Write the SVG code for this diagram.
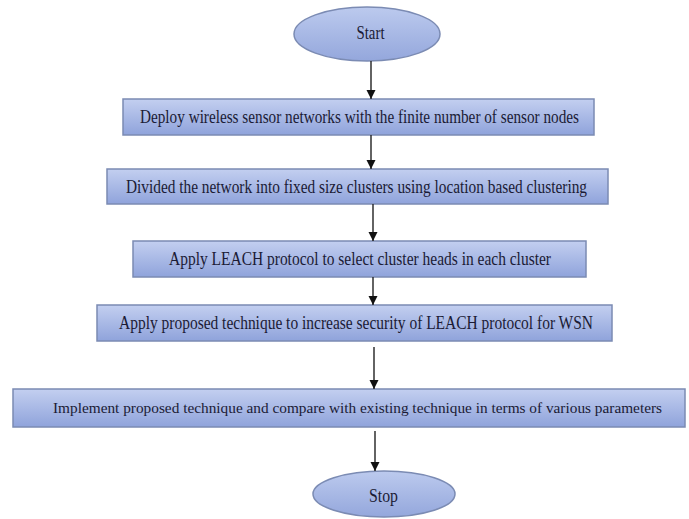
<svg xmlns="http://www.w3.org/2000/svg" width="689" height="519" viewBox="0 0 689 519">
<defs>
<linearGradient id="g" x1="0" y1="0" x2="0" y2="1">
<stop offset="0" stop-color="#c3cff0"/>
<stop offset="1" stop-color="#8fa3db"/>
</linearGradient>
<linearGradient id="ge" x1="0" y1="0" x2="0" y2="1">
<stop offset="0" stop-color="#bccaee"/>
<stop offset="1" stop-color="#94a7dc"/>
</linearGradient>
<marker id="ah" markerWidth="10" markerHeight="10" refX="9" refY="5" orient="auto" markerUnits="userSpaceOnUse">
<path d="M0,0.5 L9,5 L0,9.5 Z" fill="#111"/>
</marker>
<style>
.box{fill:url(#g);stroke:#7b8bb3;stroke-width:1.5}
.ell{fill:url(#ge);stroke:#7b8bb3;stroke-width:1.5}
.t{font-family:'Liberation Serif','Times New Roman',serif;font-size:18px;fill:#1b1b35;text-anchor:middle}
.c{stroke:#222;stroke-width:1.4;fill:none;marker-end:url(#ah)}
</style>
</defs>
<rect width="689" height="519" fill="#ffffff"/>
<g id="start">
<ellipse class="ell" cx="367" cy="34" rx="73" ry="27"/>
<text class="t" x="370.5" y="39" textLength="28" lengthAdjust="spacingAndGlyphs">Start</text>
</g>
<g id="step1">
<rect class="box" x="123" y="99" width="471" height="36"/>
<text class="t" x="359.5" y="123" textLength="439" lengthAdjust="spacingAndGlyphs">Deploy wireless sensor networks with the finite number of sensor nodes</text>
</g>
<g id="step2">
<rect class="box" x="107" y="169" width="501" height="35"/>
<text class="t" x="356.5" y="193" textLength="461" lengthAdjust="spacingAndGlyphs">Divided the network into fixed size clusters using location based clustering</text>
</g>
<g id="step3">
<rect class="box" x="133" y="241" width="453" height="36"/>
<text class="t" x="360" y="265" textLength="382" lengthAdjust="spacingAndGlyphs">Apply LEACH protocol to select cluster heads in each cluster</text>
</g>
<g id="step4">
<rect class="box" x="97" y="305" width="515" height="36"/>
<text class="t" x="356" y="329" textLength="474" lengthAdjust="spacingAndGlyphs">Apply proposed technique to increase security of LEACH protocol for WSN</text>
</g>
<g id="step5">
<rect class="box" x="13" y="389" width="672" height="38"/>
<text class="t" x="357.5" y="413" style="font-size:15px" textLength="609" lengthAdjust="spacingAndGlyphs">Implement proposed technique and compare with existing technique in terms of various parameters</text>
</g>
<g id="stop">
<ellipse class="ell" cx="384" cy="494" rx="71" ry="23"/>
<text class="t" x="383.5" y="502" textLength="29" lengthAdjust="spacingAndGlyphs">Stop</text>
</g>
<g id="connectors">
<line class="c" x1="371" y1="61" x2="371" y2="99"/>
<line class="c" x1="371" y1="135" x2="371" y2="169"/>
<line class="c" x1="373" y1="204" x2="373" y2="241"/>
<line class="c" x1="373" y1="277" x2="373" y2="305"/>
<line class="c" x1="374" y1="347" x2="374" y2="389"/>
<line class="c" x1="375" y1="431" x2="375" y2="471"/>
</g>
</svg>
